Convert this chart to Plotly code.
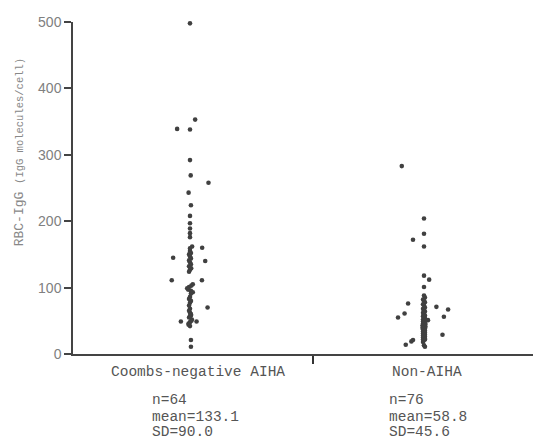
import plotly.graph_objects as go

# ---- data ----
categories = ["Coombs-negative AIHA", "Non-AIHA"]

coombs_values = [498, 353, 339, 338, 292, 269, 258, 243, 224, 208,
                 197, 189, 182, 176, 162, 160, 159, 145, 140,
                 155, 152, 150, 147, 144, 141, 138, 135, 132, 129, 127, 124,
                 111, 111,
                 105, 103, 101, 99, 97, 95, 93, 91,
                 86, 83, 80, 77, 73,
                 70, 49, 49,
                 62, 58, 55, 52, 48, 44,
                 21, 11,
                 68, 65, 60, 50, 46, 42, 57]
coombs_jitter = [0, 0.022, -0.055, 0, 0, 0.003, 0.079, -0.006, 0.004, 0,
                 0, 0, 0, 0, 0.009, 0.052, 0, -0.072, 0.065,
                 0, 0.004, -0.004, 0, 0.004, -0.004, 0, 0.004, -0.004, 0.005, 0, -0.004,
                 -0.078, 0.051,
                 0.012, 0.006, -0.004, -0.012, -0.008, 0.004, 0.012, 0.004,
                 0, -0.004, 0.004, 0, -0.004,
                 0.075, -0.039, 0.028,
                 0, 0.004, -0.004, 0.008, 0, -0.006,
                 0.004, 0.004,
                 0, -0.004, 0.004, 0.006, -0.006, 0, 0]

nonaiha_values = [283, 204, 181, 172, 162, 118, 112, 101, 76, 71,
                  67, 55, 61, 56, 29, 14, 19, 21, 51,
                  88, 85, 82, 80, 78, 75, 73, 70, 68, 66,
                  64, 62, 60, 58, 57, 55, 54, 52, 51, 50,
                  49, 48, 47, 46, 45, 44, 43, 42, 41, 40,
                  39, 38, 37, 36, 35, 34, 33, 32, 31, 30,
                  29, 28, 27, 26, 25, 24, 23, 22, 21, 45,
                  43, 41, 39, 22, 18, 13, 11]
nonaiha_jitter = [-0.095, 0, 0, -0.047, 0, 0, 0.022, 0, -0.068, 0.053,
                  0.103, -0.111, -0.083, 0.085, 0.079, -0.078, -0.054, -0.047, 0.017,
                  0, 0.004, -0.004, 0, 0.004, -0.004, 0, 0.004, -0.004, 0,
                  0.004, -0.004, 0, 0.004, -0.004, 0, 0.004, -0.004, 0, 0.004,
                  -0.004, 0, 0.004, -0.004, 0, 0.004, -0.004, 0, 0.004, -0.004,
                  0, 0.004, -0.004, 0, 0.004, -0.004, 0, 0.004, -0.004, 0,
                  0.004, -0.004, 0, 0.004, -0.004, 0, 0.004, -0.004, 0, 0.006,
                  -0.006, 0.006, -0.006, 0.004, -0.004, 0, 0.004]

stats = [["n=64", "mean=133.1", "SD=90.0"],
         ["n=76", "mean=58.8", "SD=45.6"]]

y_ticks = [0, 100, 200, 300, 400, 500]

# ---- figure ----
fig = go.Figure()
for i, (vals, jit) in enumerate([(coombs_values, coombs_jitter), (nonaiha_values, nonaiha_jitter)]):
    fig.add_trace(go.Scatter(
        x=[i + j for j in jit], y=vals, mode="markers",
        marker=dict(size=4.6, color="#404040"),
        cliponaxis=False, showlegend=False, hoverinfo="y"))

mono = "Liberation Mono, DejaVu Sans Mono, monospace"
label_x = [0.034, 1.012]
stats_x = [-0.171, 0.842]
stats_y = [-0.1386, -0.1898, -0.236]
annotations = []
for i, cat in enumerate(categories):
    annotations.append(dict(x=label_x[i], xref="x", y=-0.054, yref="paper",
                            text=cat, showarrow=False, xanchor="center", yanchor="middle",
                            font=dict(family=mono, size=14.5, color="#555")))
    for k, line in enumerate(stats[i]):
        annotations.append(dict(x=stats_x[i], xref="x", y=stats_y[k], yref="paper",
                                text=line, showarrow=False, xanchor="left", yanchor="middle",
                                font=dict(family=mono, size=14.5, color="#555")))

annotations.append(dict(x=-0.115, xref="paper", y=0.608, yref="paper", textangle=-90,
                        text="RBC-IgG <span style='font-size:10.5px'>(IgG molecules/cell)</span>",
                        showarrow=False, xanchor="center", yanchor="middle",
                        font=dict(family=mono, size=13, color="#888")))

# page body has an 8px margin, so the figure is sized to fit the 541x440 window
fig.update_layout(
    width=533, height=432,
    margin=dict(l=65, r=0, t=14, b=86),
    plot_bgcolor="white", paper_bgcolor="white",
    annotations=annotations,
    xaxis=dict(range=[-0.5, 1.5], showgrid=False, zeroline=False, showline=True,
               linecolor="#444", linewidth=1.5, tickvals=[0.527], ticktext=[""],
               ticks="outside", ticklen=8, tickwidth=2, tickcolor="#333",
               fixedrange=True),
    yaxis=dict(range=[0, 500], tickvals=y_ticks, showgrid=False, zeroline=False,
               showline=True, linecolor="#444", linewidth=1.5,
               ticks="outside", ticklen=7, tickwidth=1.5, tickcolor="#444",
               tickfont=dict(family="Liberation Sans, Arial, sans-serif", size=14, color="#808080"),
               fixedrange=True),
)

fig.write_html("out.html")
